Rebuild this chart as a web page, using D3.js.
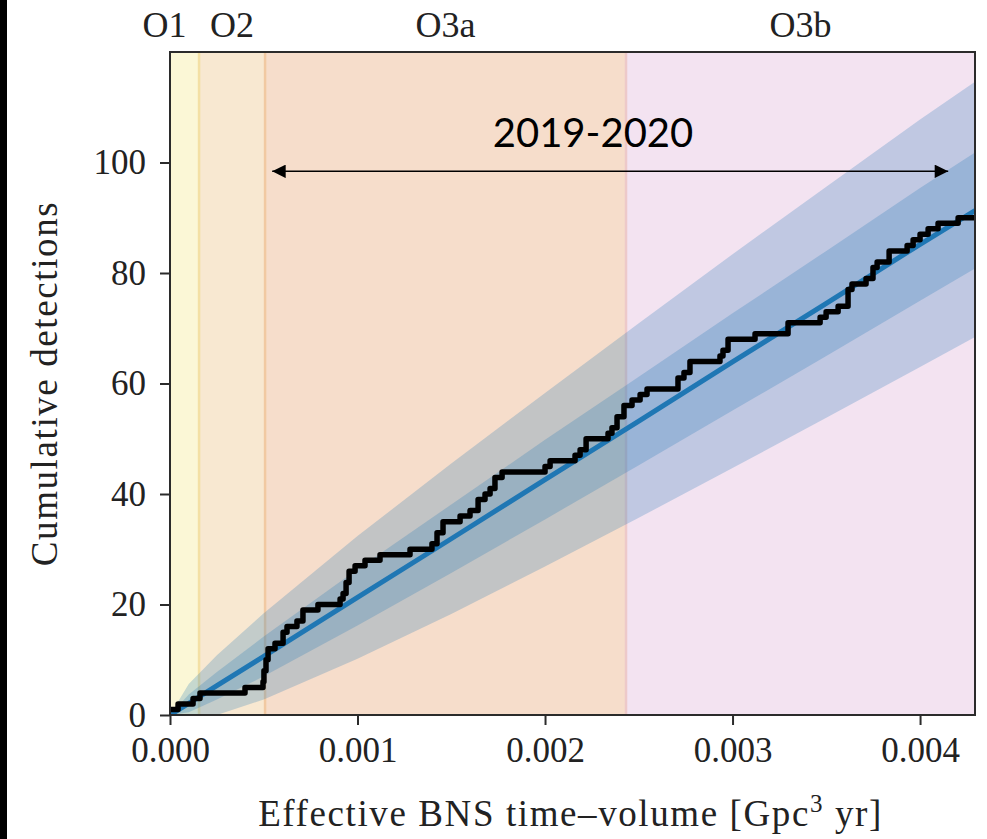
<!DOCTYPE html>
<html>
<head>
<meta charset="utf-8">
<script src="https://cdn.jsdelivr.net/npm/d3@7"></script>
<style>
  html, body { margin: 0; padding: 0; background: #ffffff; }
  svg { display: block; }
</style>
</head>
<body>
<svg id="chart" width="987" height="839"></svg>
<script>
// ---------------- data (time-volume in units of 1e-3 Gpc^3 yr) ----------------
const runNames = ["O1", "O2", "O3a", "O3b"];
const runStart = [0, 0.155, 0.507, 2.432];
const runEnd   = [0.155, 0.507, 2.432, 4.293];

// observed cumulative detections (step, post)
const detTV = [0, 0.043, 0.123, 0.160, 0.400, 0.496, 0.501, 0.512, 0.523, 0.560,
  0.603, 0.624, 0.677, 0.709, 0.789, 0.907, 0.923, 0.939, 0.955, 0.987,
  1.040, 1.120, 1.280, 1.397, 1.424, 1.456, 1.547, 1.600, 1.643, 1.680,
  1.707, 1.733, 1.771, 2.000, 2.027, 2.160, 2.187, 2.219, 2.336, 2.357,
  2.384, 2.421, 2.464, 2.507, 2.544, 2.709, 2.741, 2.773, 2.933, 2.949,
  2.976, 3.120, 3.296, 3.467, 3.499, 3.563, 3.616, 3.637, 3.712, 3.749,
  3.771, 3.835, 3.931, 3.963, 4.000, 4.043, 4.096, 4.203, 4.293];
const detN = [1, 2, 3, 4, 5, 6, 8, 10, 12, 13,
  15, 16, 17, 19, 20, 21, 22, 24, 26, 27,
  28, 29, 30, 31, 33, 35, 36, 37, 39, 40,
  41, 43, 44, 45, 46, 47, 48, 50, 51, 52,
  54, 56, 57, 58, 59, 61, 62, 64, 65, 66,
  68, 69, 71, 72, 73, 74, 77, 78, 79, 81,
  82, 84, 85, 86, 87, 88, 89, 90, 90];

// expected detections and uncertainty bands
const bandTV   = [0, 0.1, 0.25, 0.5, 1.0, 1.5, 2.0, 2.5, 3.0, 3.5, 4.0, 4.293];
const expMed   = [0, 2.1, 5.3, 10.6, 21.3, 31.9, 42.6, 53.2, 63.9, 74.5, 85.2, 91.3];
const outerHi  = [0, 5.6, 10.8, 18.4, 32.4, 45.5, 58.3, 70.9, 83.4, 95.6, 107.8, 114.6];
const outerLo  = [0, 0, 0, 2.8, 10.2, 18.3, 26.9, 35.7, 44.7, 53.8, 63.0, 68.4];
const innerHi  = [0, 3.7, 7.8, 14.2, 26.4, 38.1, 49.8, 61.2, 72.7, 84.0, 95.4, 101.8];
const innerLo  = [0, 0.5, 2.8, 7.0, 16.2, 25.7, 35.4, 45.2, 55.1, 65.0, 75.0, 80.8];

const xTicks = [0, 1, 2, 3, 4];
const yTicks = [0, 20, 40, 60, 80, 100];
const annText = "2019-2020";
const annFrom = 0.545, annTo = 4.150, annLevel = 98.4;

// ---------------- drawing ----------------
const svg = d3.select("#chart");
const W = 987, H = 839;
const m = {left: 170, right: 12, top: 52, bottom: 124};
const x = d3.scaleLinear().domain([0, 4.293]).range([m.left, W - m.right]);
const y = d3.scaleLinear().domain([0, 120]).range([H - m.bottom, m.top]);

const serif = "'Liberation Serif', 'Times New Roman', serif";
const runFill = ["#fbf7d6", "#f8e8d1", "#f6ddcb", "#f3e3f1"];
const runEdge = ["#f3e0a4", "#f1c9a2", "#edc9c9"];

svg.append("rect").attr("x", 0).attr("y", 0).attr("width", 7).attr("height", H).attr("fill", "#000");

const plot = svg.append("g");
plot.append("defs").append("clipPath").attr("id", "clip")
  .append("rect").attr("x", m.left).attr("y", m.top)
  .attr("width", W - m.left - m.right).attr("height", H - m.top - m.bottom);

const g = plot.append("g").attr("clip-path", "url(#clip)");

// observing-run background spans
runNames.forEach((n, i) => {
  g.append("rect")
    .attr("x", x(runStart[i])).attr("y", m.top)
    .attr("width", x(runEnd[i]) - x(runStart[i]))
    .attr("height", H - m.top - m.bottom)
    .attr("fill", runFill[i]);
});
runStart.slice(1).forEach((s, i) => {
  g.append("line").attr("x1", x(s)).attr("x2", x(s))
    .attr("y1", m.top).attr("y2", H - m.bottom)
    .attr("stroke", runEdge[i]).attr("stroke-width", 2.5);
});

// bands
const bandPts = bandTV.map((t, i) => ({t, oh: outerHi[i], ol: outerLo[i], ih: innerHi[i], il: innerLo[i], md: expMed[i]}));
g.append("path").datum(bandPts)
  .attr("d", d3.area().x(d => x(d.t)).y0(d => y(d.ol)).y1(d => y(d.oh)))
  .attr("fill", "#1f77b4").attr("fill-opacity", 0.24);
g.append("path").datum(bandPts)
  .attr("d", d3.area().x(d => x(d.t)).y0(d => y(d.il)).y1(d => y(d.ih)))
  .attr("fill", "#1f77b4").attr("fill-opacity", 0.24);
g.append("path").datum(bandPts)
  .attr("d", d3.line().x(d => x(d.t)).y(d => y(d.md)))
  .attr("fill", "none").attr("stroke", "#1f77b4").attr("stroke-width", 5);

// observed detections
const detPts = detTV.map((t, i) => ({t, n: detN[i]}));
g.append("path").datum(detPts)
  .attr("d", d3.line().x(d => x(d.t)).y(d => y(d.n)).curve(d3.curveStepAfter))
  .attr("fill", "none").attr("stroke", "#000").attr("stroke-width", 5.5)
  .attr("stroke-linejoin", "round");

// frame
svg.append("rect").attr("x", m.left).attr("y", m.top)
  .attr("width", W - m.left - m.right).attr("height", H - m.top - m.bottom)
  .attr("fill", "none").attr("stroke", "#2b2b2b").attr("stroke-width", 2);

// axes
const xAxis = svg.append("g").attr("transform", `translate(0,${H - m.bottom})`)
  .call(d3.axisBottom(x).tickValues(xTicks).tickFormat(d => d3.format(".3f")(d / 1000))
    .tickSize(10).tickSizeOuter(0).tickPadding(12));
const yAxis = svg.append("g").attr("transform", `translate(${m.left},0)`)
  .call(d3.axisLeft(y).tickValues(yTicks).tickSize(10).tickSizeOuter(0).tickPadding(14));
[xAxis, yAxis].forEach(a => {
  a.select(".domain").remove();
  a.selectAll(".tick line").attr("stroke", "#2b2b2b").attr("stroke-width", 2);
  a.selectAll(".tick text").attr("font-family", serif).attr("font-size", 35).attr("fill", "#222");
});

// axis titles
const xl = svg.append("text").attr("x", (m.left + W - m.right) / 2 - 2).attr("y", 826)
  .attr("text-anchor", "middle").attr("font-family", serif).attr("font-size", 37)
  .attr("letter-spacing", 1.6).attr("fill", "#222");
xl.append("tspan").text("Effective BNS time\u2013volume [Gpc");
xl.append("tspan").text("3").attr("font-size", 25).attr("dy", -14);
xl.append("tspan").text(" yr]").attr("dy", 14);

svg.append("text").attr("transform", `translate(57,${(m.top + H - m.bottom) / 2}) rotate(-90)`)
  .attr("text-anchor", "middle").attr("font-family", serif).attr("font-size", 37)
  .attr("letter-spacing", 1.6).attr("fill", "#222").text("Cumulative detections");

// run labels on top
runNames.forEach((n, i) => {
  let cx = x((runStart[i] + runEnd[i]) / 2);
  if (i === 0) cx -= 20;
  svg.append("text").attr("x", cx).attr("y", 37).attr("text-anchor", "middle")
    .attr("font-family", serif).attr("font-size", 36).attr("fill", "#222").text(n);
});

// annotation arrow
const defs = svg.append("defs");
["start", "end"].forEach(k => {
  defs.append("marker").attr("id", "arr-" + k).attr("viewBox", "0 0 10 10")
    .attr("refX", k === "end" ? 10 : 0).attr("refY", 5)
    .attr("markerWidth", 10).attr("markerHeight", 9).attr("markerUnits", "strokeWidth")
    .attr("orient", "auto")
    .append("path").attr("d", k === "end" ? "M0,0 L10,5 L0,10 Z" : "M10,0 L0,5 L10,10 Z").attr("fill", "#000");
});
svg.append("line").attr("x1", x(annFrom)).attr("x2", x(annTo))
  .attr("y1", y(annLevel)).attr("y2", y(annLevel))
  .attr("stroke", "#000").attr("stroke-width", 1.5)
  .attr("marker-start", "url(#arr-start)").attr("marker-end", "url(#arr-end)");
svg.append("text").attr("x", 593).attr("y", 147).attr("text-anchor", "middle")
  .attr("font-family", "Lato, 'Open Sans', sans-serif").attr("font-size", 40).attr("fill", "#000")
  .text(annText);
</script>
</body>
</html>
